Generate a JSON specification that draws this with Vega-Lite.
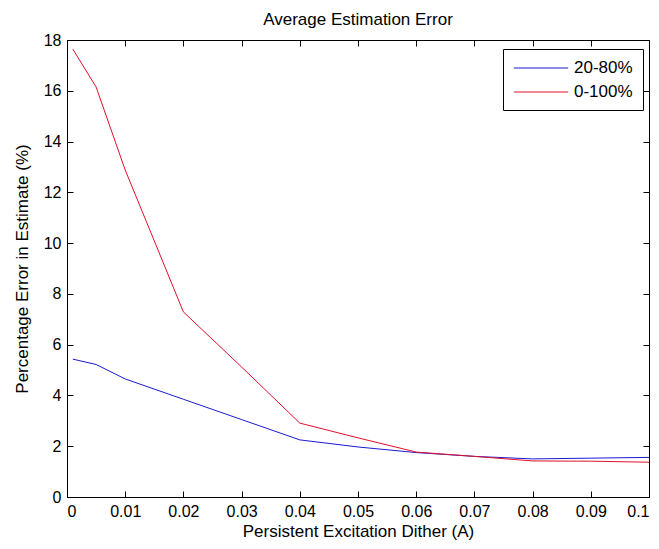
{
  "$schema": "https://vega.github.io/schema/vega-lite/v6.json",
  "width": 582,
  "height": 457,
  "autosize": "none",
  "padding": {"left": 67, "top": 40, "right": 10, "bottom": 52},
  "background": "#ffffff",
  "title": {"text": "Average Estimation Error", "fontSize": 17, "fontWeight": "normal", "font": "Liberation Sans", "color": "#000000", "anchor": "middle", "offset": 3},
  "config": {
    "view": {"stroke": "#000000", "strokeWidth": 1},
    "axis": {"domainColor": "#000000", "tickColor": "#000000", "labelColor": "#000000", "titleColor": "#000000", "labelFont": "Liberation Sans", "titleFont": "Liberation Sans", "labelFontSize": 16, "titleFontSize": 17, "titleFontWeight": "normal", "grid": false, "tickSize": 6, "tickWidth": 1},
    "legend": {"orient": "none", "legendX": 436, "legendY": 9, "strokeColor": "#000000", "fillColor": "#ffffff", "padding": 10, "symbolType": "M-3.2,0H3.2", "symbolSize": 289, "symbolStrokeWidth": 1, "symbolOffset": 19, "labelFontSize": 17, "labelFont": "Liberation Sans", "labelColor": "#000000", "labelOffset": 24, "rowPadding": 7, "cornerRadius": 0}
  },
  "data": {"values": [
    {"x": 0.001, "y": 5.43, "series": "20-80%"},
    {"x": 0.005, "y": 5.22, "series": "20-80%"},
    {"x": 0.01, "y": 4.65, "series": "20-80%"},
    {"x": 0.02, "y": 3.85, "series": "20-80%"},
    {"x": 0.03, "y": 3.05, "series": "20-80%"},
    {"x": 0.04, "y": 2.25, "series": "20-80%"},
    {"x": 0.05, "y": 1.97, "series": "20-80%"},
    {"x": 0.06, "y": 1.75, "series": "20-80%"},
    {"x": 0.07, "y": 1.6, "series": "20-80%"},
    {"x": 0.08, "y": 1.5, "series": "20-80%"},
    {"x": 0.09, "y": 1.53, "series": "20-80%"},
    {"x": 0.1, "y": 1.56, "series": "20-80%"},
    {"x": 0.001, "y": 17.64, "series": "0-100%"},
    {"x": 0.005, "y": 16.15, "series": "0-100%"},
    {"x": 0.01, "y": 12.88, "series": "0-100%"},
    {"x": 0.02, "y": 7.29, "series": "0-100%"},
    {"x": 0.03, "y": 5.12, "series": "0-100%"},
    {"x": 0.04, "y": 2.91, "series": "0-100%"},
    {"x": 0.05, "y": 2.33, "series": "0-100%"},
    {"x": 0.06, "y": 1.77, "series": "0-100%"},
    {"x": 0.07, "y": 1.6, "series": "0-100%"},
    {"x": 0.08, "y": 1.42, "series": "0-100%"},
    {"x": 0.09, "y": 1.41, "series": "0-100%"},
    {"x": 0.1, "y": 1.37, "series": "0-100%"}
  ]},
  "layer": [
    {
      "mark": {"type": "line", "strokeWidth": 1},
      "encoding": {
        "x": {"field": "x", "type": "quantitative", "scale": {"domain": [0, 0.1], "nice": false, "zero": false}, "axis": {"title": "Persistent Excitation Dither (A)", "values": [0, 0.01, 0.02, 0.03, 0.04, 0.05, 0.06, 0.07, 0.08, 0.09, 0.1], "format": "~g", "ticks": false, "labelPadding": 6}},
        "y": {"field": "y", "type": "quantitative", "scale": {"domain": [0, 18], "nice": false}, "axis": {"title": "Percentage Error in Estimate (%)", "values": [0, 2, 4, 6, 8, 10, 12, 14, 16, 18], "ticks": false, "labelPadding": 6, "titlePadding": 12}},
        "color": {"field": "series", "type": "nominal", "scale": {"domain": ["20-80%", "0-100%"], "range": ["#1a1ad0", "#e0102a"]}, "legend": {"title": null}}
      }
    },
    {
      "mark": {"type": "line", "strokeWidth": 1, "opacity": 0},
      "encoding": {
        "x": {"field": "x", "type": "quantitative", "scale": {"domain": [0, 0.1], "nice": false, "zero": false}, "axis": {"orient": "top", "offset": -457, "domain": false, "title": null, "labels": false, "values": [0, 0.01, 0.02, 0.03, 0.04, 0.05, 0.06, 0.07, 0.08, 0.09, 0.1]}},
        "y": {"field": "y", "type": "quantitative", "scale": {"domain": [0, 18], "nice": false}, "axis": {"orient": "right", "offset": -582, "domain": false, "title": null, "labels": false, "values": [0, 2, 4, 6, 8, 10, 12, 14, 16, 18]}},
        "detail": {"field": "series", "type": "nominal"}
      }
    },
    {
      "mark": {"type": "line", "strokeWidth": 1, "opacity": 0},
      "encoding": {
        "x": {"field": "x", "type": "quantitative", "scale": {"domain": [0, 0.1], "nice": false, "zero": false}, "axis": {"orient": "bottom", "offset": -457, "domain": false, "title": null, "labels": false, "values": [0, 0.01, 0.02, 0.03, 0.04, 0.05, 0.06, 0.07, 0.08, 0.09, 0.1]}},
        "y": {"field": "y", "type": "quantitative", "scale": {"domain": [0, 18], "nice": false}, "axis": {"orient": "left", "offset": -582, "domain": false, "title": null, "labels": false, "values": [0, 2, 4, 6, 8, 10, 12, 14, 16, 18]}},
        "detail": {"field": "series", "type": "nominal"}
      }
    }
  ],
  "resolve": {"axis": {"x": "independent", "y": "independent"}}
}
